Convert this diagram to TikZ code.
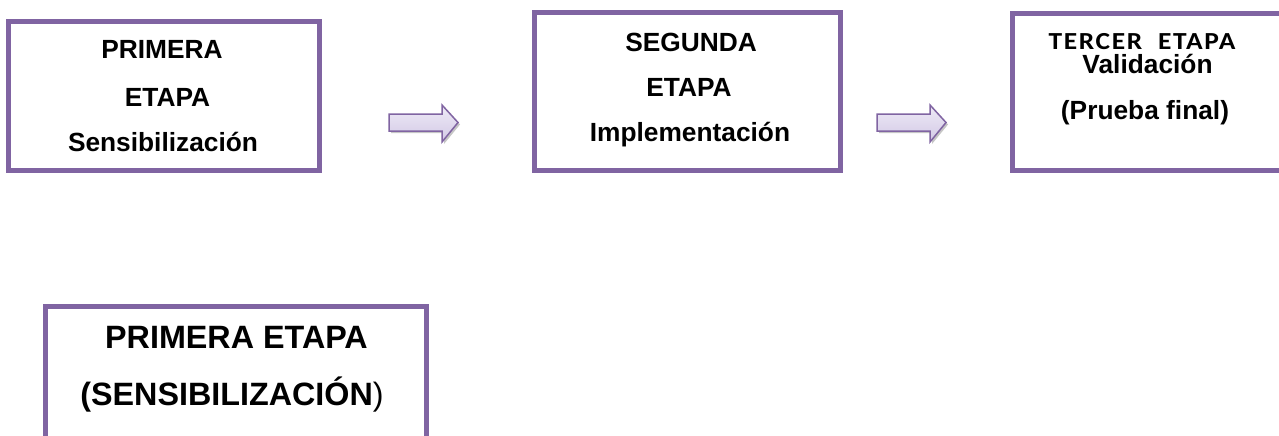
\documentclass[tikz,border=0pt]{standalone}
\usepackage{fontspec}
\setmainfont{Liberation Sans}
\newfontfamily\calib[LetterSpace=6]{Carlito}
\usetikzlibrary{shadows}
\definecolor{boxpurple}{HTML}{8064A2}
\definecolor{arrowtop}{HTML}{EEEAF6}
\definecolor{arrowbot}{HTML}{D3C9E6}
\tikzset{
  stagebox/.style={draw=boxpurple, line width=5pt, fill=white, inner sep=0pt},
  stagetxt/.style={anchor=base, inner sep=0pt, font=\fontsize{26.3}{30}\selectfont\bfseries},
  bigtxt/.style={anchor=base, inner sep=0pt, font=\fontsize{32.3}{36}\selectfont\bfseries},
  smalltxt/.style={anchor=base, inner sep=0pt, font=\fontsize{24.5}{28}\selectfont\calib\bfseries},
  blockarrow/.style={draw=boxpurple, line width=1.5pt, line join=miter,
    top color=arrowtop, bottom color=arrowbot},
  arrowshadow/.style={fill=gray, opacity=0.45}
}
\newcommand{\blockarrowat}[2]{%
  % #1 = x of tail, #2 = style
  \path[#2] (#1,114) -- ++(53,0) -- ++(0,-9) -- ++(16,17.5) -- ++(-16,19.5) -- ++(0,-11) -- ++(-53,0) -- cycle;
}
\begin{document}
\begin{tikzpicture}[x=1pt,y=-1pt]
\useasboundingbox (0,0) rectangle (1279,436);
\clip (0,0) rectangle (1279,436);
% boxes
\node[stagebox, minimum width=310.5pt, minimum height=149pt] (b1) at (163.75,96) {};
\node[stagebox, minimum width=306pt, minimum height=157.5pt] (b2) at (687.5,91.75) {};
\node[stagebox, minimum width=290pt, minimum height=157pt] (b3) at (1157.5,92) {};
\node[stagebox, minimum width=380.5pt, minimum height=160pt] (b4) at (235.75,386.5) {};
% arrows
\begin{scope}[shift={(2,2)}]
\blockarrowat{389}{arrowshadow}
\blockarrowat{877}{arrowshadow}
\end{scope}
\blockarrowat{389}{blockarrow}
\blockarrowat{877}{blockarrow}
\coordinate (a1) at (458,122.5);
\coordinate (a2) at (946,122.5);
% texts box 1
\node[stagetxt] (t11) at (162,58.3) {PRIMERA};
\node[stagetxt] (t12) at (167.5,106.5) {ETAPA};
\node[stagetxt] (t13) at (163,151.7) {Sensibilización};
% texts box 2
\node[stagetxt] (t21) at (691,51.7) {SEGUNDA};
\node[stagetxt] (t22) at (689,96.7) {ETAPA};
\node[stagetxt] (t23) at (690,141.7) {Implementación};
% texts box 3
\node[smalltxt] (t31) at (1142,49.5) {\scalebox{1.12}[1]{TERCER\ \ ETAPA}};
\node[stagetxt] (t32) at (1147.5,73.6) {Validación};
\node[stagetxt] (t33) at (1145,119.3) {(Prueba final)};
% texts box 4
\node[bigtxt] (t41) at (236.5,348) {PRIMERA ETAPA};
\node[bigtxt] (t42) at (232,405) {(SENSIBILIZACIÓN{\mdseries)}};
\end{tikzpicture}
\end{document}
